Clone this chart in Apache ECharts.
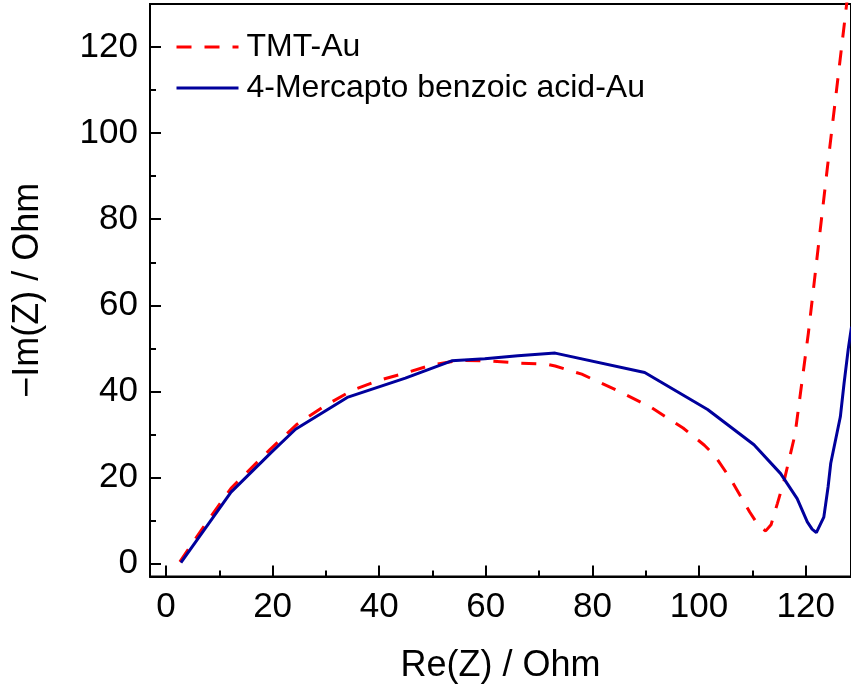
<!DOCTYPE html>
<html>
<head>
<meta charset="utf-8">
<script src="https://cdn.jsdelivr.net/npm/echarts@6/dist/echarts.min.js"></script>
<style>
html,body{margin:0;padding:0;background:#fff;}
#chart{width:851px;height:691px;}
</style>
</head>
<body>
<div id="chart"></div>
<script>
// TMT-Au (dashed red)
const tmtRe = [2.6, 7.2, 12.2, 19.5, 24.5, 30, 35, 40, 45, 50, 55, 60, 66, 71.5, 73, 78, 85, 91, 97, 101, 103, 106, 109.5, 111.3, 112.5, 113.5, 114.7, 116, 118, 120.5, 124.1, 127.5, 128.6];
const tmtIm = [0.4, 8.8, 17.5, 26.5, 32.3, 36.8, 40.3, 42.6, 44.3, 46.2, 47.2, 47.1, 46.6, 46.3, 45.9, 44, 40, 36.3, 31.5, 27.5, 25, 19.5, 12, 8.5, 7.6, 9, 14, 19.5, 30, 53.5, 92.3, 128, 140];
// 4-Mercapto benzoic acid-Au (solid blue)
const mbaRe = [2.8, 12.2, 19.9, 24.3, 34, 44.9, 53.6, 59.8, 66, 73, 89.8, 101.6, 110.3, 115.3, 118.4, 120.3, 121.2, 122, 123.4, 124.2, 124.7, 126.5, 127.2, 128, 128.6];
const mbaIm = [0.2, 16.6, 26, 31.2, 38.6, 43.1, 47.1, 47.6, 48.3, 48.9, 44.4, 35.8, 27.6, 20.9, 15.1, 9.7, 8, 7.2, 10.8, 17.8, 23.3, 34.1, 41.9, 50, 55];
const seriesNames = ['TMT-Au', '4-Mercapto benzoic acid-Au'];
const xMajor = [0, 20, 40, 60, 80, 100, 120];
const xMinor = [10, 30, 50, 70, 90, 110];
const yMajor = [0, 20, 40, 60, 80, 100, 120];
const yMinor = [10, 30, 50, 70, 90, 110];
const xTitle = 'Re(Z) / Ohm';
const yTitle = '\u2212Im(Z) / Ohm';

const FONT = '"Liberation Sans", Arial, sans-serif';
const pairs = (xs, ys) => xs.map((v, i) => [v, ys[i]]);
const chart = echarts.init(document.getElementById('chart'), null, {renderer: 'canvas'});

const baseAxis = {type: 'value', splitLine: {show: false}};
chart.setOption({
  animation: false,
  backgroundColor: '#fff',
  grid: {left: 150, top: 4, width: 703, height: 572.5, show: true, borderColor: '#000', borderWidth: 2},
  legend: {
    orient: 'vertical', left: 175, top: 31, padding: 0, itemWidth: 62, itemHeight: 14, itemGap: 9,
    itemStyle: {opacity: 0},
    lineStyle: {width: 3},
    textStyle: {fontSize: 32, fontFamily: FONT, color: '#000', lineHeight: 32, padding: [0, 0, 0, 3]},
    data: seriesNames
  },
  xAxis: [
    Object.assign({}, baseAxis, {
      min: -3, max: 128.5, position: 'bottom',
      axisLine: {onZero: false, lineStyle: {color: '#000', width: 2}},
      axisTick: {inside: true, length: 11, lineStyle: {color: '#000', width: 2}, customValues: xMajor},
      axisLabel: {customValues: xMajor, fontSize: 35, fontFamily: FONT, color: '#000', margin: 13},
      name: xTitle, nameLocation: 'middle', nameGap: 72,
      nameTextStyle: {fontSize: 36, fontFamily: FONT, color: '#000'}
    }),
    Object.assign({}, baseAxis, {
      min: -3, max: 128.5, position: 'bottom',
      axisLine: {show: false, onZero: false},
      axisTick: {inside: true, length: 6, lineStyle: {color: '#000', width: 2}, customValues: xMinor},
      axisLabel: {show: false}
    })
  ],
  yAxis: [
    Object.assign({}, baseAxis, {
      min: -3, max: 130, position: 'left',
      axisLine: {show: true, onZero: false, lineStyle: {color: '#000', width: 2}},
      axisTick: {show: true, inside: true, length: 11, lineStyle: {color: '#000', width: 2}, customValues: yMajor},
      axisLabel: {customValues: yMajor, fontSize: 35, fontFamily: FONT, color: '#000', margin: 12},
      name: yTitle, nameLocation: 'middle', nameGap: 104,
      nameTextStyle: {fontSize: 36, fontFamily: FONT, color: '#000'}
    }),
    Object.assign({}, baseAxis, {
      min: -3, max: 130, position: 'left',
      axisLine: {show: false, onZero: false},
      axisTick: {show: true, inside: true, length: 6, lineStyle: {color: '#000', width: 2}, customValues: yMinor},
      axisLabel: {show: false}
    })
  ],
  series: [
    {
      name: seriesNames[0], type: 'line', xAxisIndex: 0, yAxisIndex: 0,
      data: pairs(tmtRe, tmtIm), symbol: 'none', clip: true,
      lineStyle: {color: '#ff0000', width: 3, type: [15, 13]},
      itemStyle: {color: '#ff0000'}
    },
    {
      name: seriesNames[1], type: 'line', xAxisIndex: 0, yAxisIndex: 0,
      data: pairs(mbaRe, mbaIm), symbol: 'none', clip: true,
      lineStyle: {color: '#00009c', width: 3},
      itemStyle: {color: '#00009c'}
    }
  ]
});
</script>
</body>
</html>
